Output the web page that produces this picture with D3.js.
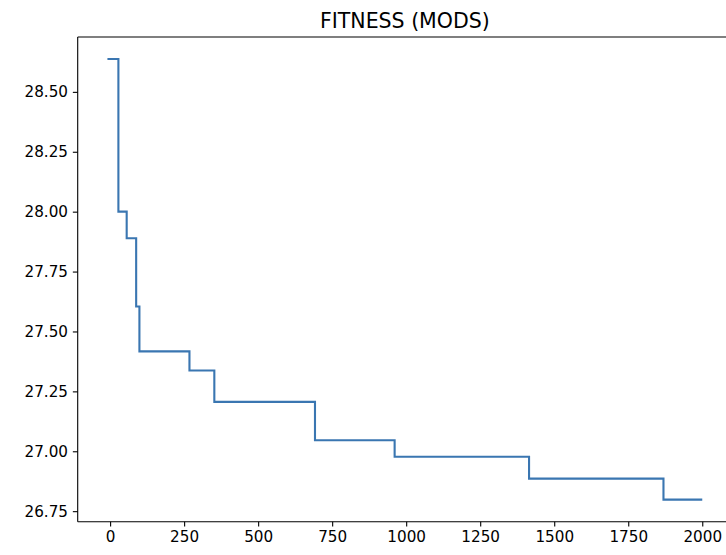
<!DOCTYPE html>
<html>
<head>
<meta charset="utf-8">
<script src="https://cdn.jsdelivr.net/npm/d3@7"></script>
<style>
  html, body { margin: 0; padding: 0; background: #fff; }
  svg { display: block; }
  text { font-family: "DejaVu Sans", sans-serif; fill: #000; }
</style>
</head>
<body>
<svg id="chart" width="726" height="555"></svg>
<script>
// Data (step changes: iteration at which fitness changes, and new fitness value)
const iterations = [-9, 28, 56, 88, 99, 268, 352, 692, 961, 1415, 1869, 2000];
const fitness = [28.637, 28.0, 27.889, 27.604, 27.417, 27.337, 27.206, 27.046, 26.977, 26.886, 26.798, 26.798];
const xTicks = [0, 250, 500, 750, 1000, 1250, 1500, 1750, 2000];
const yTicks = [26.75, 27.00, 27.25, 27.50, 27.75, 28.00, 28.25, 28.50];
const title = "FITNESS (MODS)";

(function () {
const svg = d3.select("#chart");
const mL = 77.7, mR = 732, mT = 37, mB = 521.7;

const xMin = d3.min(iterations), xMax = d3.max(iterations);
const yMin = d3.min(fitness), yMax = d3.max(fitness);
const xm = (xMax - xMin) * 0.05, ym = (yMax - yMin) * 0.05;

const x = d3.scaleLinear().domain([xMin - xm, xMax + xm]).range([mL, mR]);
const y = d3.scaleLinear().domain([yMin - ym, yMax + ym]).range([mB, mT]);

const data = iterations.map((d, i) => ({x: d, y: fitness[i]}));

// line
svg.append("path")
  .datum(data)
  .attr("fill", "none")
  .attr("stroke", "#3a76b1")
  .attr("stroke-width", 2.1)
  .attr("stroke-linejoin", "miter")
  .attr("d", d3.line().x(d => x(d.x)).y(d => y(d.y)).curve(d3.curveStepAfter));

// axes
const xAxis = d3.axisBottom(x).tickValues(xTicks).tickFormat(d3.format("d"))
  .tickSizeInner(4.86).tickSizeOuter(0).tickPadding(4.86);
const yAxis = d3.axisLeft(y).tickValues(yTicks).tickFormat(d3.format(".2f"))
  .tickSizeInner(4.86).tickSizeOuter(0).tickPadding(4.86);

const gx = svg.append("g").attr("transform", `translate(0,${mB})`).call(xAxis);
const gy = svg.append("g").attr("transform", `translate(${mL},0)`).call(yAxis);
[gx, gy].forEach(g => {
  g.select(".domain").remove();
  g.selectAll(".tick line").attr("stroke", "#000").attr("stroke-width", 1.1);
  g.selectAll(".tick text").attr("font-size", "15.2px").attr("font-family", "DejaVu Sans, sans-serif").attr("fill", "#222");
});

// spines
const sp = svg.append("g").attr("stroke", "#000").attr("stroke-width", 1.1).attr("fill", "none");
sp.append("line").attr("x1", mL).attr("x2", mL).attr("y1", mT).attr("y2", mB);
sp.append("line").attr("x1", mL).attr("x2", mR).attr("y1", mB).attr("y2", mB);
sp.append("line").attr("x1", mL).attr("x2", mR).attr("y1", mT).attr("y2", mT);
sp.append("line").attr("x1", mR).attr("x2", mR).attr("y1", mT).attr("y2", mB);

// title
svg.append("text")
  .attr("x", (mL + mR) / 2)
  .attr("y", mT - 9)
  .attr("text-anchor", "middle")
  .attr("font-size", "20.5px")
  .attr("fill", "#222")
  .text(title);
})();
</script>
</body>
</html>
